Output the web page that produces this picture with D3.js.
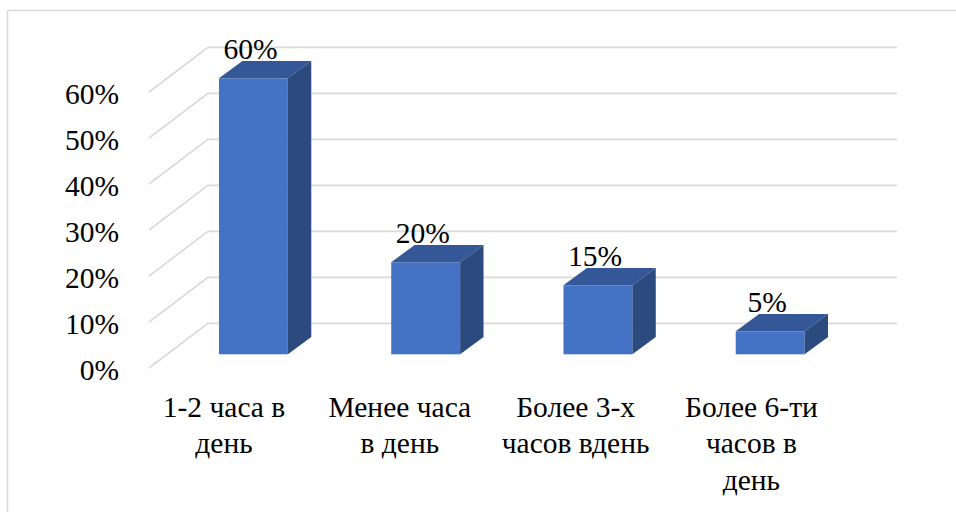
<!DOCTYPE html>
<html>
<head>
<meta charset="utf-8">
<script src="https://cdn.jsdelivr.net/npm/d3@7"></script>
<style>
  html, body { margin: 0; padding: 0; background: #fff; }
  #wrap { position: relative; width: 956px; height: 512px; overflow: hidden; }
  #wrap svg { position: absolute; left: 0; top: 0; display: block; }
  .lbl {
    position: absolute;
    font-family: "Liberation Serif", "Times New Roman", serif;
    font-size: 29.5px;
    line-height: 0;
    white-space: nowrap;
    color: #000;
  }
  .end { transform: translateX(-100%); }
  .mid { transform: translateX(-50%); }
</style>
</head>
<body>
<div id="wrap"><svg id="chart" width="956" height="512"></svg></div>
<script>
// Time spent per day (share of respondents)
const categories = ["1-2 часа в день", "Менее часа в день", "Более 3-х часов вдень", "Более 6-ти часов в день"];
const categoryLines = [
  ["1-2 часа в", "день"],
  ["Менее часа", "в день"],
  ["Более 3-х", "часов вдень"],
  ["Более 6-ти", "часов в", "день"]
];
const values = [0.60, 0.20, 0.15, 0.05];
const valueLabels = ["60%", "20%", "15%", "5%"];
const yTicks = [0, 0.1, 0.2, 0.3, 0.4, 0.5, 0.6];
const yTickLabels = ["0%", "10%", "20%", "30%", "40%", "50%", "60%"];

const svg = d3.select("#chart");
const wrap = d3.select("#wrap");

// 3D projection: the back wall is shifted right/up from the front floor edge
const wallDX = 59, wallDY = 44.6;
// bars sit part-way into the depth
const barOffDX = 18.3, barOffDY = 13.7;
// bar depth
const depthDX = 23.4, depthDY = 17.4;

const y = d3.scaleLinear().domain([0, 0.6]).range([368, 92]);
const x = d3.scaleBand().domain(categories).range([149, 838])
  .paddingInner(0.6).paddingOuter(0.3);
const xLabel = d3.scaleBand().domain(categories).range([136.1, 839.3]);

const grid = "#d9d9d9";
// with line-height 0 the text baseline sits this far below the box top
const baseShift = 10;

// outer border
svg.append("rect")
  .attr("x", 7.5).attr("y", 10.5)
  .attr("width", 980).attr("height", 540)
  .attr("fill", "none").attr("stroke", grid).attr("stroke-width", 1.5);

// gridlines: side-wall diagonal + back-wall horizontal
const gl = svg.append("g").attr("stroke", grid).attr("stroke-width", 1.6).attr("fill", "none");
yTicks.forEach(t => {
  const yf = y(t);
  gl.append("path")
    .attr("d", `M${x.range()[0]},${yf}L${x.range()[0] + wallDX},${yf - wallDY}L${x.range()[1] + wallDX},${yf - wallDY}`);
});

// bars: front face, top face, right side face
const bars = svg.append("g").selectAll("g").data(values).join("g");
bars.each(function (v, i) {
  const g = d3.select(this);
  const x0 = x(categories[i]) + barOffDX;
  const x1 = x0 + x.bandwidth();
  const yt = y(v) - barOffDY;
  const yb = y(0) - barOffDY;
  g.append("rect")
    .attr("x", x0).attr("y", yt)
    .attr("width", x1 - x0).attr("height", yb - yt)
    .attr("fill", "#4472c4");
  g.append("path")
    .attr("d", `M${x0},${yt}L${x0 + depthDX},${yt - depthDY}L${x1 + depthDX},${yt - depthDY}L${x1},${yt}Z`)
    .attr("fill", "#335797");
  g.append("path")
    .attr("d", `M${x1},${yt}L${x1 + depthDX},${yt - depthDY}L${x1 + depthDX},${yb - depthDY}L${x1},${yb}Z`)
    .attr("fill", "#2b4a7e");
});

// y tick labels (right-aligned)
wrap.selectAll("div.tick").data(yTicks).join("div")
  .attr("class", "lbl end tick")
  .style("left", "119px")
  .style("top", d => (y(d) + 11.5 - baseShift) + "px")
  .text((d, i) => yTickLabels[i]);

// value labels above each bar
wrap.selectAll("div.val").data(values).join("div")
  .attr("class", "lbl mid val")
  .style("left", (d, i) => (x(categories[i]) + barOffDX + x.bandwidth() / 2 - 3) + "px")
  .style("top", d => (y(d) - barOffDY - depthDY - 1.5 - baseShift) + "px")
  .text((d, i) => valueLabels[i]);

// category labels, one line per element
const catRows = [];
categories.forEach((c, i) => categoryLines[i].forEach((line, k) => catRows.push({ c, k, line })));
wrap.selectAll("div.cat").data(catRows).join("div")
  .attr("class", "lbl mid cat")
  .style("left", d => (xLabel(d.c) + xLabel.bandwidth() / 2) + "px")
  .style("top", d => (416.7 + d.k * 36.7 - baseShift) + "px")
  .text(d => d.line);
</script>
</body>
</html>
